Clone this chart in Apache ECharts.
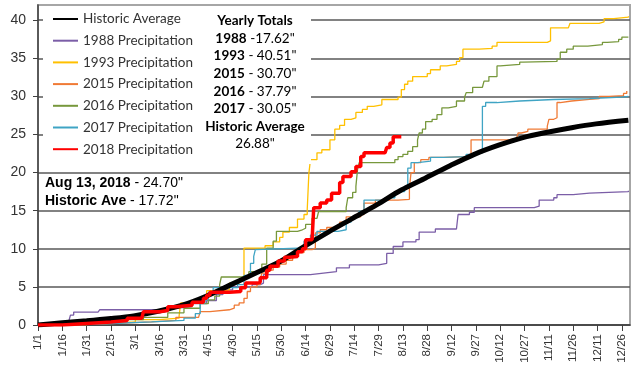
<!DOCTYPE html>
<html><head><meta charset="utf-8">
<script src="https://cdn.jsdelivr.net/npm/echarts@6/dist/echarts.min.js"></script>
<style>html,body{margin:0;padding:0;background:#fff}#c{width:640px;height:382px}</style>
</head><body><div id="c"></div>
<script>
// Tick labels (every 15 days from Jan 1)
const tickLabels = ['1/1','1/16','1/31','2/15','3/1','3/16','3/31','4/15','4/30','5/15','5/30','6/14','6/29','7/14','7/29','8/13','8/28','9/12','9/27','10/12','10/27','11/11','11/26','12/11','12/26'];
const yTicks = [0,5,10,15,20,25,30,35,40];

// Series: [day of year (0 = Jan 1), cumulative inches]
const historicAvg = [[0,0],[15,0.3],[30,0.55],[45,0.85],[59,1.2],[74,1.8],[89,2.6],[104,3.8],[119,5.3],[134,6.8],[149,8.3],[164,10.3],[179,12.2],[194,14.0],[209,15.8],[224,17.72],[239,19.3],[254,20.9],[269,22.4],[284,23.6],[299,24.6],[314,25.3],[329,25.9],[344,26.4],[364,26.88]];
const p1988 = [[0,0],[10,0.2],[19,0.5],[20,1.3],[22,1.7],[37,1.7],[38,2.0],[63,2.0],[75,2.2],[85,2.4],[95,2.8],[104,3.2],[110,4.0],[114,4.6],[120,5.0],[132,5.3],[137,5.5],[139,6.6],[168,6.8],[176,7.0],[184,7.5],[192,7.9],[210,8.1],[215,9.4],[219,10.3],[225,10.9],[233,11.2],[235,12.2],[245,12.6],[258,12.8],[259,14.5],[266,14.8],[269,15.4],[306,15.6],[309,16.4],[318,16.7],[320,17.1],[330,17.3],[340,17.5],[364,17.62]];
const p1993 = [[0,0],[20,0.2],[40,0.4],[60,0.7],[75,0.9],[87,1.2],[88,2.9],[95,3.2],[102,3.4],[104,4.5],[116,4.6],[118,5.5],[124,6.0],[127,10.1],[140,10.4],[145,10.9],[149,11.5],[151,12.2],[155,12.8],[160,13.9],[164,14.5],[166,15.2],[167,19.9],[168,21.7],[172,22.6],[175,23.0],[180,24.3],[183,25.7],[186,26.2],[189,27.0],[193,27.2],[196,27.9],[200,28.3],[203,28.7],[207,28.9],[212,29.6],[222,29.9],[224,30.9],[226,31.6],[228,32.0],[231,32.6],[240,33.0],[242,33.5],[248,34.0],[252,34.2],[258,34.6],[260,35.1],[262,36.2],[272,36.3],[280,36.6],[283,37.1],[308,37.1],[314,37.3],[316,39.0],[327,39.2],[328,39.6],[346,39.8],[349,40.2],[355,40.4],[364,40.51]];
const p2015 = [[0,0],[20,0.2],[45,0.4],[70,0.6],[85,1.0],[99,1.2],[100,1.75],[106,2.0],[118,2.2],[121,2.6],[124,2.9],[127,3.5],[129,4.4],[131,5.0],[135,5.3],[137,5.9],[138,6.8],[142,7.2],[145,7.6],[149,8.0],[153,8.5],[157,9.2],[160,9.5],[164,9.9],[169,10.1],[171,12.1],[174,12.5],[178,12.8],[184,12.9],[186,13.5],[190,14.2],[199,14.5],[201,16.0],[208,16.4],[222,16.5],[229,18.0],[230,20.0],[232,21.3],[236,21.7],[241,22.0],[250,22.1],[265,22.2],[267,24.3],[290,24.5],[295,24.6],[296,25.2],[298,25.4],[302,25.7],[314,26.1],[315,27.0],[318,27.2],[320,29.2],[322,29.4],[329,29.4],[330,29.6],[340,29.7],[346,30.0],[352,30.1],[361,30.4],[363,30.7]];
const p2016 = [[0,0],[30,0.3],[50,0.7],[65,1.0],[80,1.6],[90,2.2],[100,2.8],[105,3.3],[109,3.8],[112,5.3],[113,6.3],[125,6.4],[130,7.0],[138,8.0],[141,10.1],[145,11.0],[147,12.3],[160,12.5],[163,12.7],[165,13.2],[169,14.0],[172,14.2],[173,14.9],[186,14.9],[190,15.4],[191,16.7],[194,17.4],[196,18.2],[197,20.4],[198,21.3],[217,21.3],[220,21.7],[222,22.1],[225,22.4],[228,22.8],[231,23.4],[234,24.3],[235,25.2],[237,25.7],[239,26.7],[243,27.0],[246,27.6],[249,28.5],[253,28.7],[258,29.4],[263,29.9],[264,30.5],[268,31.2],[274,31.2],[275,32.0],[278,32.6],[283,34.0],[285,34.2],[297,34.5],[299,34.6],[320,34.9],[322,35.8],[326,36.2],[330,36.6],[339,36.8],[348,37.1],[351,37.2],[358,37.5],[360,37.79],[364,37.79]];
const p2017 = [[0,0],[20,0.2],[45,0.4],[70,0.6],[90,0.9],[97,1.5],[100,2.9],[103,3.3],[105,4.3],[108,4.9],[123,5.3],[127,6.5],[131,8.1],[133,9.0],[134,9.9],[135,10.1],[160,10.1],[164,11.0],[168,11.8],[172,12.3],[185,12.5],[190,13.5],[193,14.2],[198,14.9],[201,16.4],[214,16.7],[220,17.5],[226,18.2],[228,20.6],[230,21.3],[234,21.5],[242,22.0],[250,22.1],[264,22.4],[270,22.6],[274,28.7],[276,29.2],[283,29.4],[297,29.6],[318,29.7],[340,29.9],[360,30.0],[364,30.05]];
const p2018 = [[0,0],[15,0.2],[30,0.4],[45,0.6],[55,0.9],[64,1.1],[65,1.75],[75,1.9],[80,2.4],[85,2.6],[95,3.0],[102,3.5],[104,3.9],[106,4.3],[118,4.4],[125,4.9],[128,5.5],[135,5.6],[137,6.2],[141,7.2],[143,7.7],[148,8.4],[152,8.9],[155,9.0],[160,9.6],[163,10.0],[165,11.2],[169,11.4],[170,15.4],[174,16.0],[178,16.4],[181,17.3],[186,18.7],[188,19.5],[191,19.5],[193,20.1],[196,20.8],[199,22.1],[201,22.6],[214,22.6],[215,23.3],[217,23.9],[219,24.7],[224,24.7]];

const totalYears = ['1988','1993','2015','2016','2017'];
const totalValues = ['17.62','40.51','30.70','37.79','30.05'];
const totalSep = [' -',' - ',' - ',' - ',' - '];
const historicTotal = '26.88';
const noteDate = 'Aug 13, 2018';
const noteValue2018 = '24.70';
const noteValueAvg = '17.72';

const chart = echarts.init(document.getElementById('c'), null, {renderer:'canvas'});
const thin = 1.3;
function yr(name, data, color){
  return {name, type:'line', data, step:'end', symbol:'none', lineStyle:{width:thin, color}, itemStyle:{color}};
}
const totalsText = ['{b|Yearly Totals}']
  .concat(totalYears.map((y,i)=>'{b|'+y+'}{n|'+totalSep[i]+totalValues[i]+'"}'))
  .concat(['{b|Historic Average}','{n|'+historicTotal+'"}']).join('\n');

chart.setOption({
  animation:false,
  backgroundColor:'#fff',
  grid:{left:38, right:10, top:5, bottom:57, show:true, borderColor:'#a6a6a6', borderWidth:2},
  xAxis:{type:'value', min:0, max:365, interval:15,
    axisLine:{lineStyle:{color:'#404040', width:1.5}},
    axisTick:{show:true, length:6, lineStyle:{color:'#404040'}},
    splitLine:{show:false},
    axisLabel:{rotate:90, margin:9, fontSize:11.5, fontFamily:'Liberation Sans', color:'#333', showMaxLabel:false,
      formatter:v=> (v%15===0 && tickLabels[v/15]!==undefined) ? tickLabels[v/15] : ''}
  },
  yAxis:{type:'value', min:0, max:42, interval:5,
    axisLine:{show:true, lineStyle:{color:'#404040', width:1.5}},
    axisTick:{show:true, length:5, lineStyle:{color:'#404040'}},
    splitLine:{show:true, showMaxLine:false, lineStyle:{color:'#595959', width:1.5}},
    axisLabel:{margin:12, fontSize:14, fontFamily:'Liberation Sans', color:'#333', showMaxLabel:false,
      formatter:v=> yTicks.indexOf(v)>=0 ? String(v) : ''}
  },
  legend:{orient:'vertical', left:52, top:12, padding:0, itemWidth:25, itemHeight:14, itemGap:7.7,
    itemStyle:{opacity:0, borderWidth:0},
    textStyle:{fontFamily:'Lato', fontSize:13.5, color:'#333'}, z:6,
    data:['Historic Average','1988 Precipitation','1993 Precipitation','2015 Precipitation','2016 Precipitation','2017 Precipitation','2018 Precipitation']},
  graphic:[
    {type:'rect', z:5, shape:{x:43, y:6, width:268, height:158}, style:{fill:'#fff'}},
    {type:'text', z:6, style:{x:255, y:12, align:'center', verticalAlign:'top', text:totalsText,
      rich:{b:{fontFamily:'Lato', fontWeight:'bold', fontSize:13.5, color:'#222', lineHeight:17.6},
            n:{fontFamily:'Lato', fontSize:13.5, color:'#222', lineHeight:17.6}}}},
    {type:'text', z:6, style:{x:45, y:174, text:'{b|'+noteDate+'}{n| - '+noteValue2018+'"}\n{b|Historic Ave}{n| - '+noteValueAvg+'"}',
      rich:{b:{fontFamily:'Liberation Sans', fontWeight:'bold', fontSize:14, color:'#1f2a44', lineHeight:18},
            n:{fontFamily:'Liberation Sans', fontSize:14, color:'#1f2a44', lineHeight:18}}}}
  ],
  series:[
    yr('1988 Precipitation', p1988, '#7b5ea7'),
    yr('1993 Precipitation', p1993, '#ffc000'),
    yr('2015 Precipitation', p2015, '#f07a35'),
    yr('2016 Precipitation', p2016, '#77983c'),
    yr('2017 Precipitation', p2017, '#3fa4c4'),
    {name:'Historic Average', type:'line', data:historicAvg, smooth:0.3, symbol:'none', lineStyle:{width:5, color:'#000'}, itemStyle:{color:'#000'}},
    {name:'2018 Precipitation', type:'line', data:p2018, step:'end', symbol:'none', lineStyle:{width:3.5, color:'#ff0000'}, itemStyle:{color:'#ff0000'}}
  ]
});
</script></body></html>
